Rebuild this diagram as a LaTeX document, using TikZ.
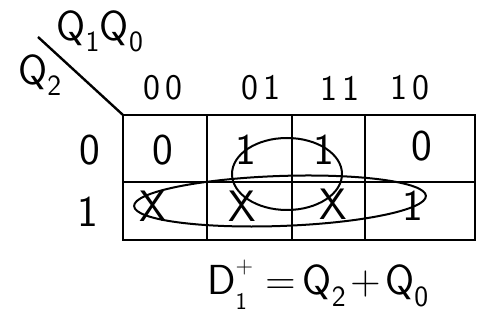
\documentclass[tikz,border=0pt]{standalone}
\usepackage{tikz}
\usetikzlibrary{positioning}
\newcommand{\lo}[1]{\textsubscript{#1}}
\newcommand{\hilo}[2]{\rlap{\raisebox{-0.35em}{\fontsize{24}{24}\selectfont #2}}%
  \raisebox{0.5em}{\fontsize{24}{24}\selectfont #1}}

\begin{document}
\begin{tikzpicture}[
  x=1pt,y=-1pt,
  line width=2.4pt,
  head/.style={font=\fontsize{36}{38}\selectfont\sffamily,inner sep=0pt},
  axis/.style={font=\fontsize{42}{44}\selectfont\sffamily,inner sep=0pt},
  val/.style={font=\fontsize{44}{46}\selectfont\sffamily,inner sep=0pt},
  group/.style={line width=2pt}
]
\useasboundingbox (0,0) rectangle (480,320);
% axis labels and the corner line
\coordinate (corner0) at (38,37);
\coordinate (corner1) at (123,115);
\draw (corner0) -- (corner1);
\node[axis] (q1q0) at (100,31) {Q\lo{1}Q\lo{0}};
\node[axis] (q2) at (40,75) {Q\lo{2}};
% column and row headers
\node[head] (h00) at (163,88) {0\hspace{0.15em}0};
\node[head] (h01) at (261,88) {0\hspace{0.15em}1};
\node[head] (h11) at (340,88) {1\hspace{0.15em}1};
\node[head] (h10) at (410,88) {1\hspace{0.15em}0};
\node[val] (r0) at (90,150) {0};
\node[val] (r1) at (88,212) {1};
% the map
\draw (123,115) rectangle (475,240);
\draw (123,182) -- (475,182);
\draw (207,115) -- (207,240);
\draw (292,115) -- (292,240);
\draw (365,115) -- (365,240);
% cells
\node[val] (c000) at (163,150) {0};
\node[val] (c001) at (246,150) {1};
\node[val] (c011) at (324,150) {1};
\node[val] (c010) at (422,146) {0};
\node[val] (c100) at (153,206) {X};
\node[val] (c101) at (242,206) {X};
\node[val] (c111) at (333,204) {X};
\node[val] (c110) at (413,206) {1};
% groups
\draw[group] (287,174) ellipse [x radius=55pt, y radius=36pt];
\draw[group,rotate around={2:(280,201)}] (280,201) ellipse [x radius=146pt, y radius=25pt];
% result
\node[font=\fontsize{42}{44}\selectfont\sffamily,inner sep=0pt] (eq) at (318,285)
  {D\hilo{+}{1}\hspace{0.3em}=\hspace{0.15em}Q\lo{2}\hspace{0.1em}+\hspace{0.1em}Q\lo{0}};
\end{tikzpicture}
\end{document}
